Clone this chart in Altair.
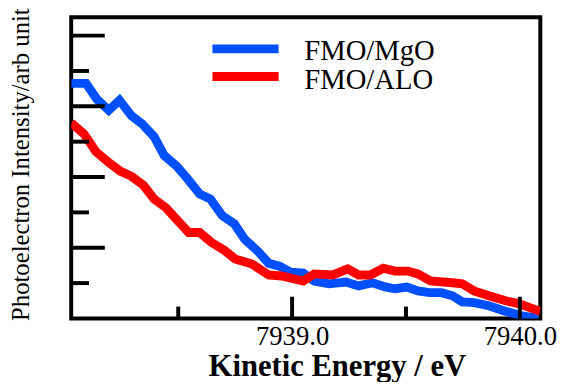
import altair as alt
import pandas as pd

# ---- data ----
series_names = ["FMO/MgO", "FMO/ALO"]
series_colors = ["#0050ff", "#ff0000"]

mgo_energy = [7938.030, 7938.095, 7938.143, 7938.195, 7938.242, 7938.295, 7938.342,
              7938.394, 7938.438, 7938.494, 7938.542, 7938.594, 7938.641, 7938.693,
              7938.746, 7938.793, 7938.850, 7938.897, 7938.945, 7938.993, 7939.049,
              7939.097, 7939.162, 7939.236, 7939.292, 7939.353, 7939.409, 7939.452,
              7939.504, 7939.552, 7939.604, 7939.656, 7939.704, 7939.747, 7939.799,
              7939.864, 7939.929, 7940.003, 7940.081]
mgo_intensity = [6.65, 6.65, 6.20, 5.89, 6.17, 5.73, 5.50,
                 5.14, 4.61, 4.30, 3.94, 3.52, 3.38, 2.91,
                 2.68, 2.23, 1.90, 1.56, 1.48, 1.31, 1.28,
                 1.06, 0.98, 1.03, 0.92, 1.01, 0.89, 0.84,
                 0.89, 0.78, 0.73, 0.73, 0.64, 0.47, 0.45,
                 0.36, 0.22, 0.08, 0.00]

alo_energy = [7938.030, 7938.086, 7938.138, 7938.195, 7938.247, 7938.295, 7938.347,
              7938.394, 7938.446, 7938.494, 7938.546, 7938.594, 7938.646, 7938.702,
              7938.750, 7938.824, 7938.897, 7938.954, 7939.049, 7939.097, 7939.179,
              7939.244, 7939.292, 7939.344, 7939.400, 7939.452, 7939.509, 7939.552,
              7939.608, 7939.704, 7939.747, 7939.799, 7939.864, 7939.938, 7939.994,
              7940.090]
alo_intensity = [5.53, 5.22, 4.72, 4.41, 4.16, 4.02, 3.77,
                 3.38, 3.13, 2.79, 2.43, 2.43, 2.15, 1.93,
                 1.68, 1.54, 1.23, 1.20, 1.06, 1.26, 1.23,
                 1.40, 1.23, 1.23, 1.42, 1.34, 1.34, 1.26,
                 1.06, 1.01, 0.98, 0.78, 0.64, 0.50, 0.42,
                 0.20]

x_major_ticks = [7939.0, 7940.0]
x_minor_ticks = [7938.5, 7939.5]
y_major_ticks = [2, 4, 6, 8]
y_minor_ticks = [1, 3, 5, 7]

x_domain = [7938.03, 7940.09]
y_domain = [0, 8.52]

# ---- styling ----
W, H = 475, 305
SERIF = "Liberation Serif, Times New Roman, serif"

xs = alt.Scale(domain=x_domain, nice=False, zero=False)
ys = alt.Scale(domain=y_domain, nice=False, zero=False)
color_scale = alt.Scale(domain=series_names, range=series_colors)

df_mgo = pd.DataFrame({"energy": mgo_energy, "intensity": mgo_intensity})
df_alo = pd.DataFrame({"energy": alo_energy, "intensity": alo_intensity})

x_axis = alt.Axis(values=x_major_ticks, format=".1f", labelFont=SERIF, labelFontSize=27,
                  labelColor="black", labelPadding=5, labelFlush=False, ticks=False,
                  domain=False, grid=False, title="Kinetic Energy / eV", titleFont=SERIF,
                  titleFontSize=31, titleFontWeight="bold", titleColor="black",
                  titleX=269, titleY=58, titleBaseline="alphabetic", titleAlign="center")
y_axis = alt.Axis(labels=False, ticks=False, domain=False, grid=False,
                  title="Photoelectron Intensity/arb unit", titleFont=SERIF,
                  titleFontSize=25, titleFontWeight="normal", titleColor="black",
                  titleAngle=270, titleX=-43, titleY=307, titleAlign="left",
                  titleBaseline="alphabetic")

line_mgo = alt.Chart(df_mgo).mark_line(
    strokeWidth=9, clip=True, strokeJoin="miter", strokeCap="butt", color=series_colors[0]
).encode(
    x=alt.X("energy:Q", scale=xs, axis=x_axis),
    y=alt.Y("intensity:Q", scale=ys, axis=y_axis),
)
line_alo = alt.Chart(df_alo).mark_line(
    strokeWidth=9, clip=True, strokeJoin="miter", strokeCap="butt", color=series_colors[1]
).encode(
    x=alt.X("energy:Q", scale=xs, axis=x_axis),
    y=alt.Y("intensity:Q", scale=ys, axis=None),
)

def ytick(values, length):
    return alt.Chart(pd.DataFrame({"v": values})).mark_rule(
        strokeWidth=4, color="black", strokeCap="butt"
    ).encode(y=alt.Y("v:Q", scale=ys, axis=None), x=alt.value(0), x2=alt.value(length))

def xtick(values, length):
    return alt.Chart(pd.DataFrame({"v": values})).mark_rule(
        strokeWidth=4, color="black", strokeCap="butt"
    ).encode(x=alt.X("v:Q", scale=xs, axis=x_axis), y=alt.value(H), y2=alt.value(H - length))

leg = pd.DataFrame({"series": series_names})
leg_rules = alt.Chart(leg).mark_rule(strokeWidth=9, strokeCap="butt").encode(
    y=alt.Y("series:N", scale=alt.Scale(type="point", domain=series_names, range=[32, 60], padding=0), axis=None),
    x=alt.value(143), x2=alt.value(210),
    color=alt.Color("series:N", scale=color_scale, legend=None),
)
leg_text = alt.Chart(leg).mark_text(
    font=SERIF, fontSize=29, align="left", baseline="alphabetic", color="black"
).encode(
    y=alt.Y("series:N", scale=alt.Scale(type="point", domain=series_names, range=[43, 73], padding=0), axis=None),
    x=alt.value(236),
    text="series:N",
)

chart = alt.layer(
    line_mgo, line_alo,
    ytick(y_major_ticks, 34), ytick(y_minor_ticks, 18),
    xtick(x_major_ticks, 22), xtick(x_minor_ticks, 12),
    leg_rules, leg_text,
).resolve_scale(y="independent").properties(
    width=W, height=H,
    autosize=alt.AutoSizeParams(type="none"),
    padding={"left": 64, "top": 7, "right": 26, "bottom": 62},
    background="white",
).configure_view(stroke="black", strokeWidth=4)

chart.save("out.html", embed_options={"renderer": "svg", "actions": False})
